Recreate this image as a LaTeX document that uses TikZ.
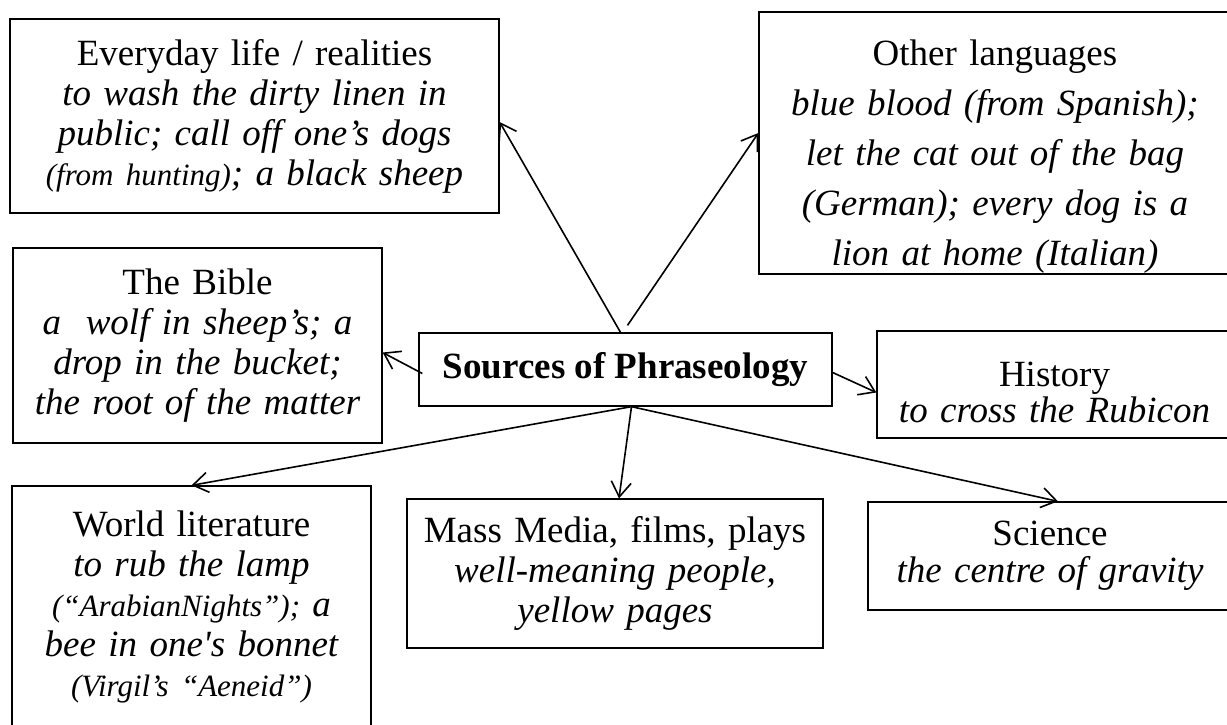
\documentclass[tikz,border=0pt]{standalone}
\usepackage{fontspec}
\setmainfont{Liberation Serif}
\usetikzlibrary{
	arrows.meta,
	positioning,
	calc,
}
\tikzset{topic/.style={
		% The shape:
		rectangle,
		% The border:
		draw=black, line width=1.3pt,
		% The text:
		align=center, inner sep=0pt,
		font=\fontsize{37}{40}\selectfont,
}}
\tikzset{root/.style={
		% The shape:
		rectangle,
		% The size:
		minimum width=413pt, minimum height=73pt,
		% The border:
		draw=black, line width=1.3pt,
		% bold title
		font=\fontsize{37}{40}\selectfont\bfseries,
}}
% smaller notes in brackets
\newcommand{\aside}[1]{{\fontsize{31}{40}\selectfont #1}}

\begin{document}
\begin{tikzpicture}[x=1pt,y=-1pt,>={Straight Barb[length=15pt,width=20pt]},line width=1.6pt]
	\useasboundingbox (0,0) rectangle (1227,724);
	\node[root] (src) at (625.5,369.5) {Sources of Phraseology};

	\node[topic, minimum width=489pt, minimum height=194pt, text width=480pt] (everyday) at (254.5,116)
		{Everyday life / realities\\ \itshape to wash the dirty linen in\\ public; call off one’s dogs\\ \aside{(from hunting)}; a black sheep};
	% extra strut on the first line pushes the block down a little
	\node[topic, minimum width=472pt, minimum height=262pt, text width=462pt,
		font=\fontsize{37}{50}\selectfont] (other) at (995,143)
		{\rule{0pt}{53pt}Other languages\\ \itshape blue blood (from Spanish);\\ let the cat out of the bag\\ (German); every dog is a\\ lion at home (Italian)};
	\node[topic, minimum width=369pt, minimum height=195pt, text width=360pt] (bible) at (197.5,345.5)
		{The Bible\\ \itshape a~ wolf in sheep’s; a\\ drop in the bucket;\\ the root of the matter};
	\node[topic, minimum width=355pt, minimum height=107pt, text width=345pt,
		font=\fontsize{37}{36}\selectfont] (history) at (1054.5,384.5)
		{\rule{0pt}{41pt}History\\ \itshape to cross the Rubicon};
	\node[topic, minimum width=359pt, minimum height=242pt, text width=350pt] (worldlit) at (191.5,607)
		{World literature\\ \itshape to rub the lamp\\ \aside{(“ArabianNights”);} a\\ bee in one\textquotesingle s bonnet\\ \aside{(Virgil’s “Aeneid”)}};
	\node[topic, minimum width=416pt, minimum height=149pt, text width=406pt] (media) at (615,573.5)
		{Mass Media, films, plays\\ \itshape well-meaning people,\\ yellow pages};
	\node[topic, minimum width=364pt, minimum height=108pt, text width=354pt,
		font=\fontsize{37}{37}\selectfont] (science) at (1050,556)
		{Science\\ \itshape the centre of gravity};

	% arrows out of the centre box
	\coordinate (fork) at ([xshift=6pt]src.south);
	\draw[->] ([xshift=-5pt]src.north) -- ([yshift=-6pt]everyday.east);
	\draw[->] ([xshift=2pt,yshift=7pt]src.north) -- ([yshift=10pt]other.west);
	\draw[->] ([xshift=4pt,yshift=-4pt]src.west) -- ([yshift=-7pt]bible.east);
	\draw[->] ([yshift=-3pt]src.east) -- ([yshift=-8pt]history.west);
	\draw[->] (fork) -- (worldlit.north);
	\draw[->] (fork) -- ([xshift=4pt]media.north);
	\draw[->] (fork) -- ([xshift=8pt]science.north);
\end{tikzpicture}
\end{document}
